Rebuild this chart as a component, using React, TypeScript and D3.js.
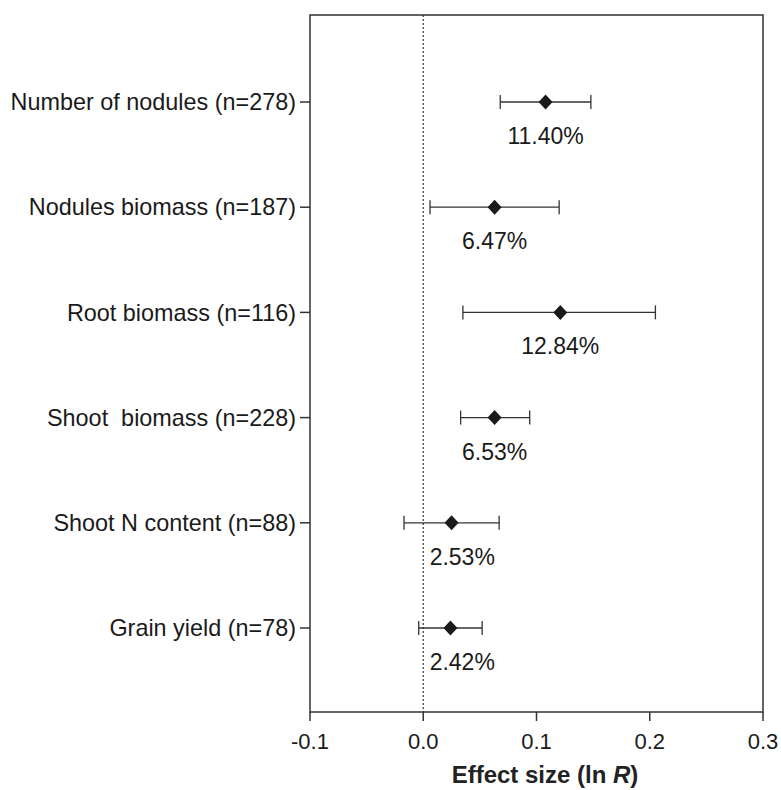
import React from "react";
import * as d3 from "d3";

const categories = [
  "Number of nodules (n=278)",
  "Nodules biomass (n=187)",
  "Root biomass (n=116)",
  "Shoot  biomass (n=228)",
  "Shoot N content (n=88)",
  "Grain yield (n=78)",
];
const means = [0.108, 0.063, 0.121, 0.063, 0.025, 0.024];
const lowers = [0.068, 0.006, 0.035, 0.033, -0.017, -0.004];
const uppers = [0.148, 0.12, 0.205, 0.094, 0.067, 0.052];
const pctLabels = ["11.40%", "6.47%", "12.84%", "6.53%", "2.53%", "2.42%"];
const xTicks = [-0.1, 0.0, 0.1, 0.2, 0.3];

const W = 781;
const H = 790;
const left = 310;
const right = 763;
const top = 15;
const bottom = 712;
const font = "'Liberation Sans', Arial, sans-serif";
const ink = "#1a1a1a";

export default function App() {
  const x = d3.scaleLinear().domain([-0.1, 0.3]).range([left, right]);
  const y = d3.scaleLinear().domain([0, categories.length - 1]).range([102, 628]);
  const fmt = (v: number) => d3.format(".1f")(v).replace("\u2212", "-");
  const diamond = "M0,-7.5L7,0L0,7.5L-7,0Z";

  return (
    <svg width={W} height={H} style={{ position: "absolute", left: 0, top: 0 }}>
      <rect width={W} height={H} fill="#fff" />
      {/* zero line */}
      <line x1={x(0)} x2={x(0)} y1={top} y2={bottom} stroke="#444" strokeWidth={1.3} strokeDasharray="2,2" />
      {/* frame */}
      <rect x={left} y={top} width={right - left} height={bottom - top} fill="none" stroke="#333" strokeWidth={1.5} />
      {/* x ticks */}
      {xTicks.map((t) => (
        <g key={t}>
          <line x1={x(t)} x2={x(t)} y1={bottom} y2={bottom + 9} stroke="#333" strokeWidth={1.5} />
          <text x={x(t)} y={749} textAnchor="middle" fontFamily={font} fontSize={22} fill={ink}>
            {fmt(t)}
          </text>
        </g>
      ))}
      <text x={545} y={783} textAnchor="middle" fontFamily={font} fontSize={24} fontWeight="bold" fill="#222">
        Effect size (ln <tspan fontStyle="italic">R</tspan>)
      </text>
      {categories.map((c, i) => {
        const cy = y(i);
        const lx = Math.max(x(means[i]), x(0) + 39);
        return (
          <g key={c}>
            <line x1={left - 10} x2={left} y1={cy} y2={cy} stroke="#333" strokeWidth={1.5} />
            <text x={left - 14} y={cy} dy="0.35em" textAnchor="end" fontFamily={font} fontSize={23.4} fill={ink} style={{ whiteSpace: "pre" }}>
              {c}
            </text>
            <line x1={x(lowers[i])} x2={x(uppers[i])} y1={cy} y2={cy} stroke="#333" strokeWidth={1.3} />
            <line x1={x(lowers[i])} x2={x(lowers[i])} y1={cy - 7} y2={cy + 7} stroke="#333" strokeWidth={1.3} />
            <line x1={x(uppers[i])} x2={x(uppers[i])} y1={cy - 7} y2={cy + 7} stroke="#333" strokeWidth={1.3} />
            <path d={diamond} transform={`translate(${x(means[i])},${cy})`} fill="#1a1a1a" />
            <text x={lx} y={cy + 42} textAnchor="middle" fontFamily={font} fontSize={23} fill={ink}>
              {pctLabels[i]}
            </text>
          </g>
        );
      })}
    </svg>
  );
}
